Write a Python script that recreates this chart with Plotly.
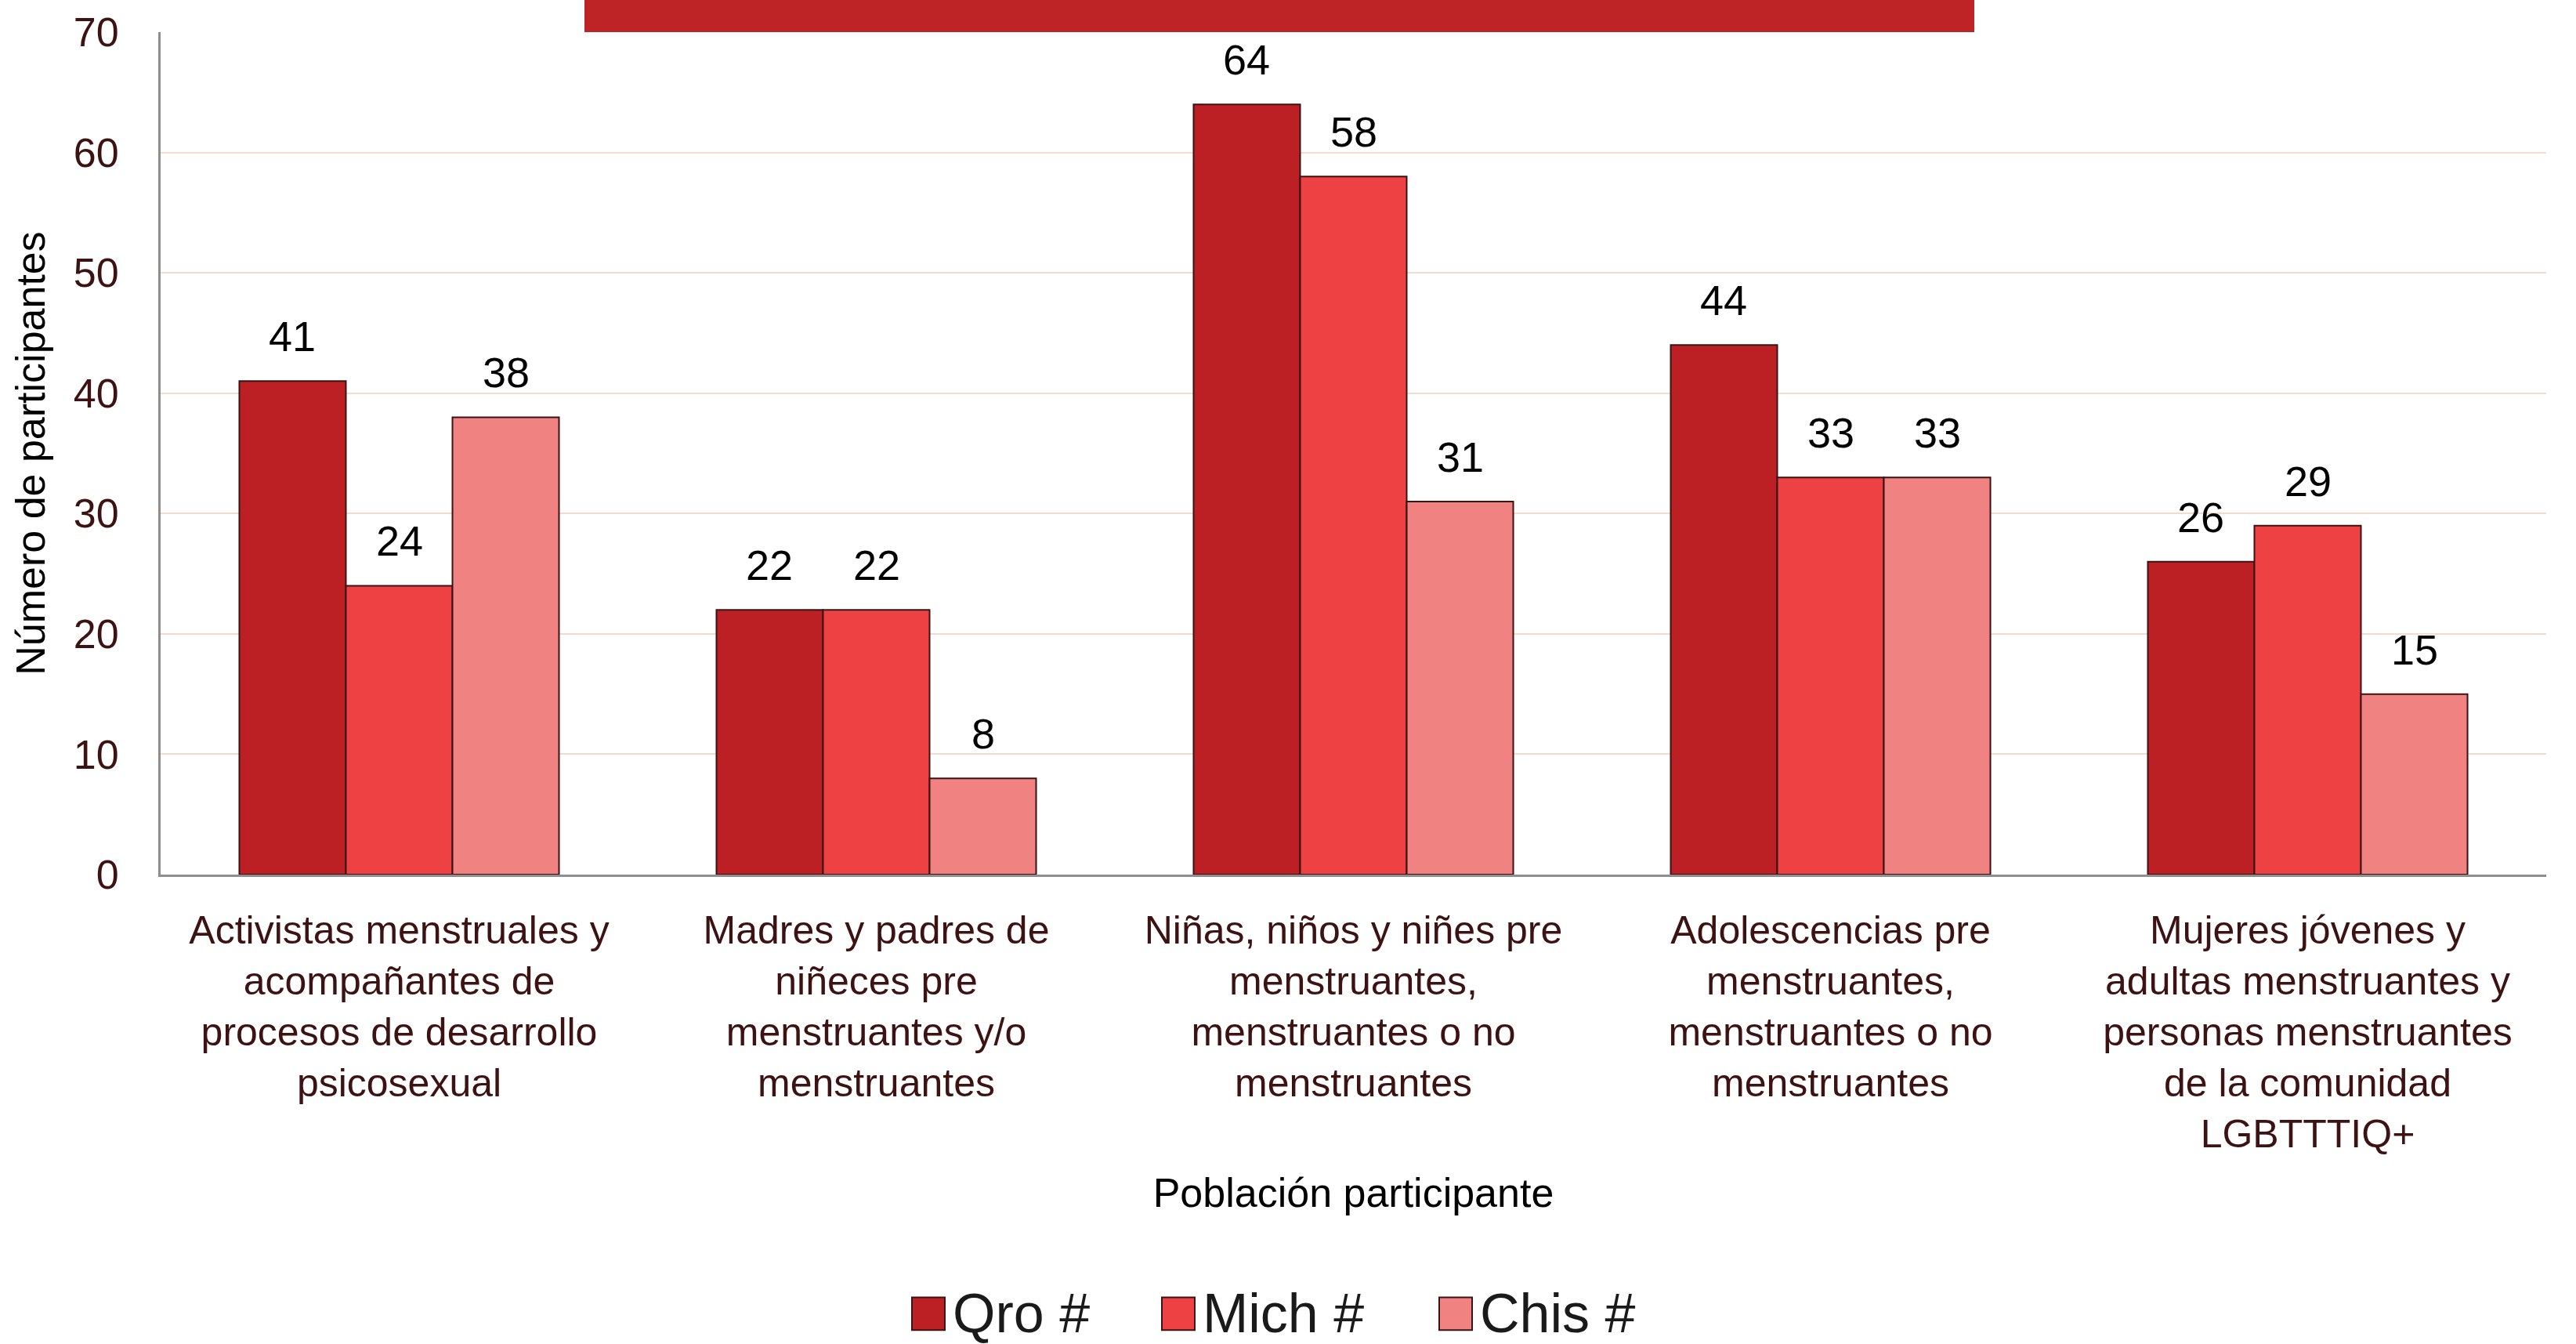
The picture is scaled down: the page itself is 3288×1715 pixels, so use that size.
import plotly.graph_objects as go

# ===== datos =====
categorias = [
    "Activistas menstruales y<br>acompañantes de<br>procesos de desarrollo<br>psicosexual",
    "Madres y padres de<br>niñeces pre<br>menstruantes y/o<br>menstruantes",
    "Niñas, niños y niñes pre<br>menstruantes,<br>menstruantes o no<br>menstruantes",
    "Adolescencias pre<br>menstruantes,<br>menstruantes o no<br>menstruantes",
    "Mujeres jóvenes y<br>adultas menstruantes y<br>personas menstruantes<br>de la comunidad<br>LGBTTTIQ+",
]
series = ["Qro #", "Mich #", "Chis #"]
qro = [41, 22, 64, 44, 26]
mich = [24, 22, 58, 33, 29]
chis = [38, 8, 31, 33, 15]
colores = ["#bd2024", "#ee4143", "#f08282"]

W, H = 3288, 1715
# bordes del area de dibujo medidos en la pagina
PL, PR, PT, PB = 205, 3250, 34, 1116
L, R, T, B = PL, W - PR, PT, H - PB
FONT = "Liberation Sans, Arial, sans-serif"
BARGAP = 0.33


def px_x(x):
    return (x - PL) / (PR - PL)


def px_y(y):
    return (PB - y) / (PB - PT)


fig = go.Figure()
for nombre, valores, color in zip(series, [qro, mich, chis], colores):
    fig.add_trace(go.Bar(
        x=categorias, y=valores, name=nombre,
        marker=dict(color=color, line=dict(color="#3a1414", width=2)),
        showlegend=False,
    ))

shapes = []
annotations = []

# etiquetas de valor, algo separadas de la barra como en el original
ancho_barra = (1 - BARGAP) / len(series)
for j, valores in enumerate([qro, mich, chis]):
    for i, v in enumerate(valores):
        annotations.append(dict(
            x=i + (j - (len(series) - 1) / 2) * ancho_barra, y=v,
            xref="x", yref="y", text=str(v), showarrow=False,
            yanchor="middle", yshift=57,
            font=dict(size=54, color="black", family=FONT),
        ))

# leyenda manual (cuadros grandes como en el original)
leyenda_x = [1164, 1483, 1837]
for nombre, color, x0 in zip(series, colores, leyenda_x):
    shapes.append(dict(type="rect", xref="paper", yref="paper",
                       x0=px_x(x0), x1=px_x(x0 + 42), y0=px_y(1701), y1=px_y(1659),
                       fillcolor=color, line=dict(color="#3a1414", width=2)))
    annotations.append(dict(text=nombre, xref="paper", yref="paper",
                            x=px_x(x0 + 50), y=px_y(1680), xanchor="left", yanchor="middle",
                            showarrow=False, font=dict(size=70, color="#1a1a1a", family=FONT)))

# barra roja del titulo (cortada arriba)
shapes.append(dict(type="rect", xref="paper", yref="paper",
                   x0=px_x(746), x1=px_x(2520), y0=px_y(34), y1=px_y(-20),
                   fillcolor="#be2326", line=dict(width=0), layer="above"))

fig.update_layout(
    width=W, height=H,
    margin=dict(l=L, r=R, t=T, b=B),
    paper_bgcolor="white", plot_bgcolor="white",
    barmode="group", bargap=BARGAP, bargroupgap=0,
    font=dict(family=FONT, size=50, color="#3c1212"),
    shapes=shapes, annotations=annotations,
    xaxis=dict(
        showline=True, linecolor="#8e8e8e", linewidth=3,
        tickfont=dict(size=50, color="#3c1212"),
        ticklabelstandoff=25,
        title=dict(text="Población participante", font=dict(size=52, color="black"), standoff=30),
    ),
    yaxis=dict(
        range=[0, 70], dtick=10,
        showline=True, linecolor="#8e8e8e", linewidth=3,
        gridcolor="#f3dccd", gridwidth=2, zeroline=False,
        tickfont=dict(size=52, color="#3c1212"),
        ticklabelstandoff=40,
        title=dict(text="Número de participantes", font=dict(size=52, color="black"), standoff=20),
    ),
)

# quitar el margen del body para que la figura ocupe toda la ventana
fig.write_html("out.html", config={"displayModeBar": False},
               post_script="document.body.style.margin='0';")
